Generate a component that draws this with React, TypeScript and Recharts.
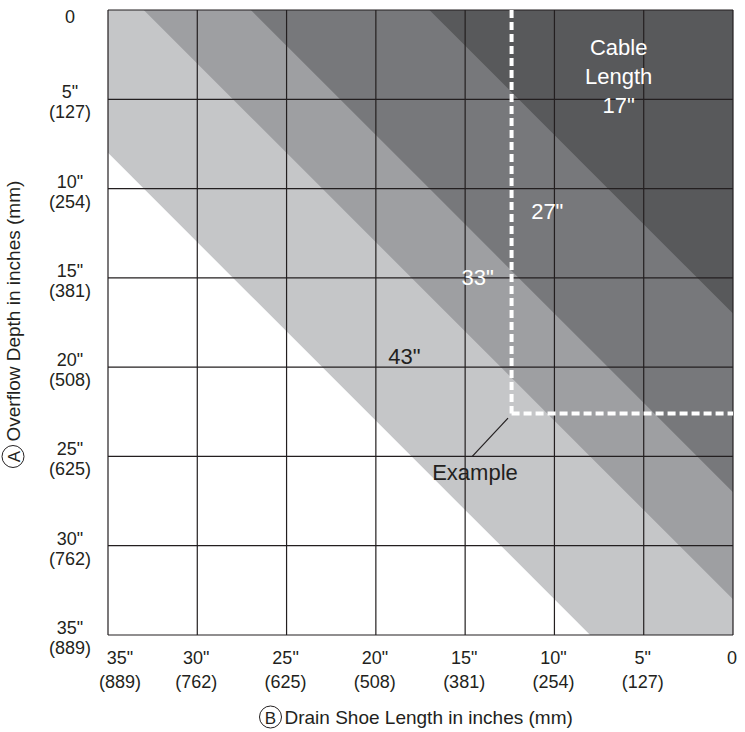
import React from 'react';
import { ComposedChart, Area, Scatter, XAxis, YAxis, ReferenceLine } from 'recharts';

// band edges: overflow depth (in) where each cable length runs out, per drain shoe length
const shoeLengths = [0, 8, 17, 27, 33, 35];
const edge43 = [35, 35, 26, 16, 10, 8];
const edge33 = [33, 25, 16, 6, 0, 0];
const edge27 = [27, 19, 10, 0, 0, 0];
const edge17 = [17, 9, 0, 0, 0, 0];

const axisTicks = [0, 5, 10, 15, 20, 25, 30, 35];
const inchLabels = ['0', '5"', '10"', '15"', '20"', '25"', '30"', '35"'];
const mmLabels = ['', '(127)', '(254)', '(381)', '(508)', '(625)', '(762)', '(889)'];

// worked example (dashed white corner) and its leader line
const exampleShoe = 12.4;
const exampleDepth = 22.6;
const leaderFrom = { shoe: 12.6, depth: 22.85 };
const leaderTo = { shoe: 14.6, depth: 25.0 };

// in-plot labels
const lightLabels = [
    { shoe: 6.4, depth: 3.7, text: ['Cable', 'Length', '17"'] },
    { shoe: 10.4, depth: 11.3, text: ['27"'] },
    { shoe: 14.3, depth: 15.0, text: ['33"'] },
];
const darkLabels = [
    { shoe: 18.4, depth: 19.4, text: ['43"'] },
    { shoe: 14.45, depth: 25.9, text: ['Example'] },
];

const bandRows = shoeLengths.map((shoe, i) => ({
    shoe,
    d43: edge43[i],
    d33: edge33[i],
    d27: edge27[i],
    d17: edge17[i],
}));

const FONT = '"Liberation Sans", Arial, Helvetica, sans-serif';
const INK = '#231f20';

const XTick = ({ x, y, payload }: any) => {
    const i = axisTicks.indexOf(payload.value);
    const dx = payload.value === 35 ? 12 : -1;
    return (
        <g fontFamily={FONT} fontSize={18} fill={INK}>
            <text x={x + dx} y={y + 23} textAnchor="middle" dominantBaseline="central">{inchLabels[i]}</text>
            {mmLabels[i] && (
                <text x={x + dx} y={y + 47} textAnchor="middle" dominantBaseline="central">{mmLabels[i]}</text>
            )}
        </g>
    );
};

const YTick = ({ x, y, payload }: any) => {
    const i = axisTicks.indexOf(payload.value);
    const cx = x - 38;
    if (!mmLabels[i]) {
        return (
            <text x={cx} y={y + 7} textAnchor="middle" dominantBaseline="central" fontFamily={FONT} fontSize={18} fill={INK}>
                {inchLabels[i]}
            </text>
        );
    }
    return (
        <g fontFamily={FONT} fontSize={18} fill={INK}>
            <text x={cx} y={y - 7} textAnchor="middle" dominantBaseline="central">{inchLabels[i]}</text>
            <text x={cx} y={y + 13} textAnchor="middle" dominantBaseline="central">{mmLabels[i]}</text>
        </g>
    );
};

const XTitle = (props: any) => {
    const vb = props.viewBox || { x: 108, y: 635, width: 625, height: 97 };
    const cx = vb.x + vb.width / 2;
    const cy = vb.y + 82;
    return (
        <g fontFamily={FONT} fill={INK}>
            <circle cx={cx - 150} cy={cy} r={11} fill="none" stroke={INK} strokeWidth={1} />
            <text x={cx - 150} y={cy + 1} textAnchor="middle" dominantBaseline="central" fontSize={17}>B</text>
            <text x={cx - 136} y={cy} dominantBaseline="central" fontSize={19}>Drain Shoe Length in inches (mm)</text>
        </g>
    );
};

const YTitle = (props: any) => {
    const vb = props.viewBox || { x: 0, y: 10, width: 108, height: 625 };
    const cx = 13;
    const cy = vb.y + vb.height / 2;
    return (
        <g transform={`rotate(-90 ${cx} ${cy})`} fontFamily={FONT} fill={INK}>
            <circle cx={cx - 134} cy={cy} r={11} fill="none" stroke={INK} strokeWidth={1} />
            <text x={cx - 134} y={cy + 1} textAnchor="middle" dominantBaseline="central" fontSize={17}>A</text>
            <text x={cx - 119} y={cy} dominantBaseline="central" fontSize={19}>Overflow Depth in inches (mm)</text>
        </g>
    );
};

const textShape = (color: string) => (props: any) => {
    const { cx, cy, payload } = props;
    const lines: string[] = payload.text || [];
    const lh = 29;
    return (
        <g fontFamily={FONT} fontSize={22} fill={color}>
            {lines.map((t, i) => (
                <text key={t} x={cx} y={cy + (i - (lines.length - 1) / 2) * lh} textAnchor="middle" dominantBaseline="central">
                    {t}
                </text>
            ))}
        </g>
    );
};

export default function App() {
    return (
        <div style={{ position: 'absolute', left: 0, top: 0, width: 745, height: 732, background: '#fff' }}>
            <ComposedChart width={745} height={732} data={bandRows} margin={{ top: 10, right: 12, left: 0, bottom: 0 }}>
                <XAxis
                    dataKey="shoe"
                    type="number"
                    domain={[0, 35]}
                    reversed
                    ticks={axisTicks}
                    interval={0}
                    axisLine={false}
                    tickLine={false}
                    tickSize={0}
                    tickMargin={0}
                    height={97}
                    tick={XTick}
                    label={XTitle}
                />
                <YAxis
                    type="number"
                    domain={[0, 35]}
                    reversed
                    ticks={axisTicks}
                    interval={0}
                    axisLine={false}
                    tickLine={false}
                    tickSize={0}
                    tickMargin={0}
                    width={108}
                    tick={YTick}
                    label={YTitle}
                />

                {/* cable length bands, longest first so shorter ones sit on top */}
                <Area type="linear" dataKey="d43" fill="#c5c6c8" fillOpacity={1} stroke="none" dot={false} activeDot={false} isAnimationActive={false} />
                <Area type="linear" dataKey="d33" fill="#9e9fa2" fillOpacity={1} stroke="none" dot={false} activeDot={false} isAnimationActive={false} />
                <Area type="linear" dataKey="d27" fill="#77787b" fillOpacity={1} stroke="none" dot={false} activeDot={false} isAnimationActive={false} />
                <Area type="linear" dataKey="d17" fill="#58595b" fillOpacity={1} stroke="none" dot={false} activeDot={false} isAnimationActive={false} />

                {axisTicks.map((v) => (
                    <ReferenceLine key={'gx' + v} x={v} stroke={INK} strokeWidth={1.2} />
                ))}
                {axisTicks.map((v) => (
                    <ReferenceLine key={'gy' + v} y={v} stroke={INK} strokeWidth={1.2} />
                ))}

                <ReferenceLine
                    segment={[{ x: exampleShoe, y: 0 }, { x: exampleShoe, y: exampleDepth }]}
                    stroke="#ffffff"
                    strokeWidth={4}
                    strokeDasharray="8 4"
                />
                <ReferenceLine
                    segment={[{ x: exampleShoe, y: exampleDepth }, { x: 0, y: exampleDepth }]}
                    stroke="#ffffff"
                    strokeWidth={4}
                    strokeDasharray="8 4"
                />
                <ReferenceLine
                    segment={[{ x: leaderFrom.shoe, y: leaderFrom.depth }, { x: leaderTo.shoe, y: leaderTo.depth }]}
                    stroke={INK}
                    strokeWidth={1.2}
                />

                <Scatter data={lightLabels} dataKey="depth" shape={textShape('#ffffff')} isAnimationActive={false} />
                <Scatter data={darkLabels} dataKey="depth" shape={textShape(INK)} isAnimationActive={false} />
            </ComposedChart>
        </div>
    );
}
